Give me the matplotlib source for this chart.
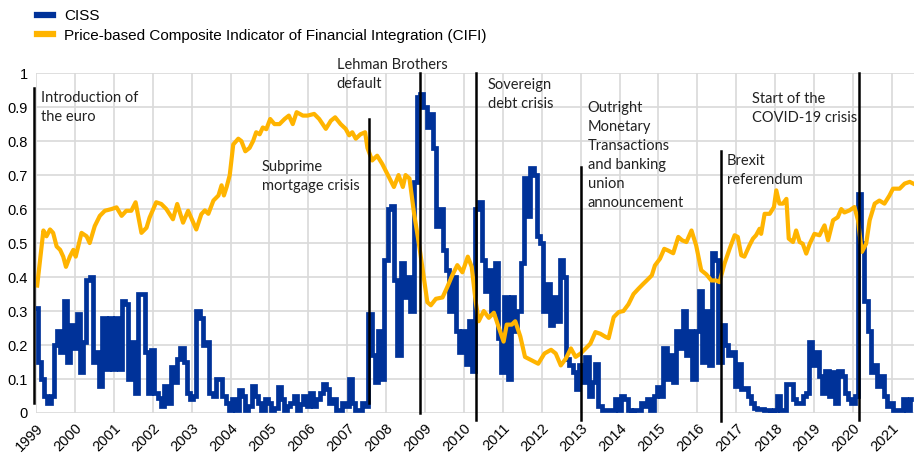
import matplotlib.pyplot as plt
import numpy as np

# CISS, monthly values from Jan 1999 to Jul 2021
ciss_start = 1999
ciss = [
    # 1999
    0.31, 0.15, 0.10, 0.05, 0.03, 0.05, 0.20, 0.24, 0.18, 0.33, 0.15, 0.26,
    # 2000
    0.19, 0.29, 0.12, 0.21, 0.39, 0.40, 0.15, 0.18, 0.08, 0.28, 0.13, 0.28,
    # 2001
    0.13, 0.28, 0.13, 0.33, 0.32, 0.10, 0.21, 0.06, 0.35, 0.35, 0.18, 0.06,
    # 2002
    0.185, 0.06, 0.045, 0.02, 0.08, 0.03, 0.135, 0.09, 0.16, 0.19, 0.15, 0.06,
    # 2003
    0.04, 0.05, 0.30, 0.28, 0.20, 0.21, 0.06, 0.05, 0.10, 0.10, 0.05, 0.03,
    # 2004
    0.01, 0.04, 0.01, 0.067, 0.05, 0.01, 0.02, 0.08, 0.05, 0.03, 0.01, 0.04,
    # 2005
    0.03, 0.01, 0.015, 0.076, 0.04, 0.01, 0.02, 0.03, 0.05, 0.01, 0.025, 0.05,
    # 2006
    0.02, 0.06, 0.02, 0.04, 0.06, 0.086, 0.07, 0.03, 0.04, 0.01, 0.01, 0.03,
    # 2007
    0.02, 0.10, 0.03, 0.01, 0.01, 0.03, 0.02, 0.29, 0.17, 0.09, 0.24, 0.10,
    # 2008
    0.45, 0.60, 0.61, 0.39, 0.17, 0.44, 0.34, 0.40, 0.30, 0.68, 0.93, 0.94,
    # 2009
    0.90, 0.84, 0.88, 0.78, 0.55, 0.60, 0.48, 0.42, 0.30, 0.40, 0.24, 0.18,
    # 2010
    0.24, 0.145, 0.27, 0.125, 0.60, 0.62, 0.45, 0.36, 0.42, 0.30, 0.44, 0.22,
    # 2011
    0.12, 0.34, 0.10, 0.34, 0.24, 0.30, 0.44, 0.69, 0.58, 0.72, 0.70, 0.52,
    # 2012
    0.50, 0.30, 0.38, 0.26, 0.34, 0.27, 0.45, 0.40, 0.16, 0.14, 0.12, 0.07,
    # 2013
    0.14, 0.09, 0.165, 0.05, 0.09, 0.145, 0.02, 0.01, 0.01, 0.01, 0.01, 0.04,
    # 2014
    0.01, 0.05, 0.04, 0.01, 0.005, 0.01, 0.01, 0.03, 0.02, 0.04, 0.01, 0.05,
    # 2015
    0.076, 0.05, 0.19, 0.10, 0.17, 0.09, 0.24, 0.19, 0.30, 0.17, 0.24, 0.10,
    # 2016
    0.24, 0.36, 0.15, 0.30, 0.14, 0.47, 0.45, 0.15, 0.26, 0.20, 0.17, 0.18,
    # 2017
    0.08, 0.145, 0.07, 0.075, 0.05, 0.03, 0.015, 0.012, 0.012, 0.01, 0.008, 0.005,
    # 2018
    0.01, 0.05, 0.01, 0.01, 0.086, 0.086, 0.04, 0.03, 0.03, 0.05, 0.06, 0.21,
    # 2019
    0.14, 0.18, 0.11, 0.06, 0.125, 0.05, 0.12, 0.03, 0.125, 0.11, 0.06, 0.04,
    # 2020
    0.03, 0.05, 0.645, 0.50, 0.33, 0.24, 0.12, 0.14, 0.08, 0.11, 0.05, 0.02,
    # 2021
    0.03, 0.01, 0.01, 0.01, 0.04, 0.01, 0.04,
]

# CIFI, read at irregular dates (decimal years)
cifi_years = [
    1999.03, 1999.19, 1999.27, 1999.36, 1999.44, 1999.53, 1999.62, 1999.70, 1999.77, 1999.87,
    1999.96, 2000.02, 2000.17, 2000.30, 2000.38, 2000.51, 2000.64, 2000.77, 2000.94, 2001.07,
    2001.20, 2001.32, 2001.45, 2001.56, 2001.71, 2001.84, 2001.92, 2002.09, 2002.22, 2002.35,
    2002.52, 2002.63, 2002.78, 2002.91, 2003.12, 2003.25, 2003.34, 2003.43, 2003.56, 2003.69,
    2003.77, 2003.83, 2003.90, 2003.98, 2004.07, 2004.20, 2004.28, 2004.38, 2004.49, 2004.58,
    2004.66, 2004.75, 2004.83, 2004.92, 2005.02, 2005.13, 2005.26, 2005.39, 2005.50, 2005.60,
    2005.70, 2005.86, 2005.98, 2006.15, 2006.28, 2006.45, 2006.58, 2006.69, 2006.83, 2006.96,
    2007.05, 2007.13, 2007.22, 2007.34, 2007.46, 2007.52, 2007.64, 2007.77, 2007.90, 2008.09,
    2008.20, 2008.32, 2008.43, 2008.50, 2008.60, 2008.72, 2008.85, 2008.98, 2009.06, 2009.15,
    2009.28, 2009.45, 2009.57, 2009.70, 2009.83, 2009.96, 2010.10, 2010.20, 2010.30, 2010.38,
    2010.51, 2010.64, 2010.77, 2010.90, 2011.02, 2011.10, 2011.23, 2011.32, 2011.45, 2011.57,
    2011.74, 2011.91, 2012.07, 2012.24, 2012.36, 2012.49, 2012.62, 2012.75, 2012.87, 2013.00,
    2013.13, 2013.25, 2013.38, 2013.51, 2013.64, 2013.72, 2013.85, 2013.98, 2014.10, 2014.23,
    2014.36, 2014.49, 2014.61, 2014.70, 2014.83, 2014.91, 2015.04, 2015.15, 2015.25, 2015.38,
    2015.51, 2015.61, 2015.72, 2015.85, 2015.97, 2016.10, 2016.23, 2016.36, 2016.48, 2016.57,
    2016.70, 2016.83, 2016.96, 2017.04, 2017.13, 2017.21, 2017.34, 2017.43, 2017.51, 2017.60,
    2017.64, 2017.73, 2017.86, 2017.97, 2018.03, 2018.11, 2018.20, 2018.29, 2018.35, 2018.46,
    2018.54, 2018.63, 2018.71, 2018.80, 2018.89, 2019.01, 2019.14, 2019.27, 2019.36, 2019.49,
    2019.61, 2019.70, 2019.78, 2019.91, 2020.04, 2020.13, 2020.23, 2020.34, 2020.43, 2020.56,
    2020.68, 2020.81, 2020.94, 2021.03, 2021.20, 2021.33, 2021.46, 2021.55,
]
cifi = [
    0.375, 0.537, 0.52, 0.54, 0.53, 0.49, 0.48, 0.46, 0.43, 0.46,
    0.48, 0.46, 0.53, 0.52, 0.50, 0.55, 0.58, 0.595, 0.60, 0.605,
    0.58, 0.595, 0.595, 0.62, 0.53, 0.545, 0.575, 0.62, 0.615, 0.60,
    0.57, 0.615, 0.56, 0.595, 0.54, 0.585, 0.596, 0.586, 0.625, 0.64,
    0.67, 0.64, 0.665, 0.70, 0.79, 0.807, 0.80, 0.77, 0.78, 0.80,
    0.826, 0.82, 0.84, 0.835, 0.865, 0.85, 0.85, 0.865, 0.875, 0.85,
    0.885, 0.875, 0.875, 0.88, 0.865, 0.836, 0.86, 0.87, 0.85, 0.836,
    0.817, 0.826, 0.807, 0.82, 0.826, 0.78, 0.743, 0.757, 0.733, 0.69,
    0.665, 0.70, 0.665, 0.70, 0.69, 0.586, 0.493, 0.39, 0.326, 0.317,
    0.336, 0.34, 0.37, 0.405, 0.435, 0.414, 0.46, 0.43, 0.33, 0.27,
    0.30, 0.28, 0.295, 0.25, 0.21, 0.26, 0.26, 0.27, 0.225, 0.165,
    0.155, 0.145, 0.175, 0.186, 0.175, 0.14, 0.16, 0.19, 0.165, 0.175,
    0.19, 0.204, 0.238, 0.233, 0.224, 0.22, 0.282, 0.297, 0.30, 0.32,
    0.35, 0.366, 0.38, 0.39, 0.405, 0.434, 0.454, 0.483, 0.478, 0.47,
    0.518, 0.508, 0.503, 0.537, 0.493, 0.42, 0.408, 0.39, 0.39, 0.385,
    0.44, 0.483, 0.523, 0.518, 0.464, 0.46, 0.493, 0.513, 0.523, 0.542,
    0.527, 0.586, 0.586, 0.606, 0.655, 0.616, 0.616, 0.63, 0.513, 0.503,
    0.537, 0.503, 0.498, 0.469, 0.498, 0.527, 0.523, 0.552, 0.508, 0.567,
    0.576, 0.60, 0.59, 0.596, 0.606, 0.567, 0.474, 0.498, 0.567, 0.616,
    0.625, 0.616, 0.64, 0.66, 0.66, 0.675, 0.68, 0.675,
]

# events: date, bottom and top of the marker line, label
event_years = [1998.95, 2007.56, 2008.86, 2010.30, 2013.00, 2016.60, 2020.15]
event_ymin = [0.03, 0.03, 0.0, -0.02, -0.02, -0.025, -0.02]
event_ymax = [0.955, 0.865, 1.0, 1.0, 0.725, 0.77, 1.0]
event_labels = [
    "Introduction of\nthe euro",
    "Subprime\nmortgage crisis",
    "Lehman Brothers\ndefault",
    "Sovereign\ndebt crisis",
    "Outright\nMonetary\nTransactions\nand banking\nunion\nannouncement",
    "Brexit\nreferendum",
    "Start of the\nCOVID-19 crisis",
]
label_x = [1999.13, 2004.80, 2006.73, 2010.62, 2013.18, 2016.76, 2017.40]
label_y = [0.948, 0.745, 1.045, 0.985, 0.918, 0.762, 0.945]

years = list(range(1999, 2022))
yticks = [0, 0.1, 0.2, 0.3, 0.4, 0.5, 0.6, 0.7, 0.8, 0.9, 1]
ytick_labels = ["0", "0.1", "0.2", "0.3", "0.4", "0.5", "0.6", "0.7", "0.8", "0.9", "1"]

plt.rcParams['font.family'] = ['Liberation Sans', 'DejaVu Sans']

fig = plt.figure(figsize=(9.14, 4.57), dpi=100)
ax = fig.add_axes([0.0394, 0.0963, 0.9606, 0.7437])

ciss_x = ciss_start + np.arange(len(ciss)) / 12
l1, = ax.plot(ciss_x, ciss, color='#003299', lw=3.4, drawstyle='steps-mid',
              solid_joinstyle='miter', zorder=3, label='CISS')
l2, = ax.plot(cifi_years, cifi, color='#FFB400', lw=3.0, zorder=4,
              label='Price-based Composite Indicator of Financial Integration (CIFI)')

for xv, y0, y1 in zip(event_years, event_ymin, event_ymax):
    ax.plot([xv, xv], [y0, y1], color='black', lw=1.8, zorder=5, clip_on=False)

for xv, yv, txt in zip(label_x, label_y, event_labels):
    ax.text(xv, yv, txt, family='Lato', fontsize=10.5, color='#222222', ha='left', va='top',
            linespacing=1.45, clip_on=False, zorder=6)

ax.set_xlim(1999, 2021.57)
ax.set_ylim(0, 1)
ax.set_xticks(years)
ax.set_xticklabels([str(y) for y in years], rotation=45, ha='right', va='top',
                   rotation_mode='anchor', fontsize=10.5)
ax.set_yticks(yticks)
ax.set_yticklabels(ytick_labels, fontsize=10.5)
ax.tick_params(length=0, pad=6)
ax.grid(True, color='#d9d9d9', lw=1.2)
ax.set_axisbelow(True)
for s in ax.spines.values():
    s.set_visible(False)

fig.legend(handles=[l1, l2], loc='upper left', bbox_to_anchor=(0.03, 1.0), frameon=False,
           fontsize=11, handlelength=1.1, handletextpad=0.7, labelspacing=0.35,
           borderaxespad=0.2)
for h in fig.legends[0].legend_handles:
    h.set_linewidth(4.5)

fig.savefig('out.png', dpi=100)
